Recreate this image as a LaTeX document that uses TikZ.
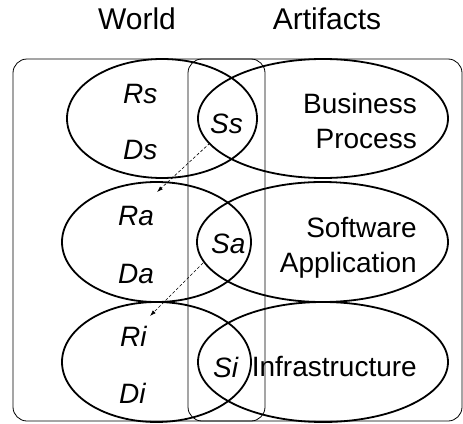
\documentclass[tikz,border=0pt]{standalone}
\usepackage{fontspec}
\setmainfont{Liberation Sans}
\usetikzlibrary{arrows.meta}
\begin{document}
\begin{tikzpicture}[x=1pt,y=-1pt,
  region/.style={draw, line width=0.8pt, rounded corners=14pt},
  set/.style={draw, line width=1.8pt},
  title/.style={font=\fontsize{30}{36}\selectfont, anchor=base, inner sep=0pt},
  sym/.style={font=\fontsize{28}{34}\selectfont\itshape, anchor=base west, inner sep=0pt},
  layer/.style={font=\fontsize{28}{35}\selectfont, align=right, anchor=base east, inner sep=0pt},
  trace/.style={line width=0.6pt, dash pattern=on 3pt off 2pt, -{Latex[length=6pt,width=4pt]}}]

\useasboundingbox (0,0) rectangle (463,423);

% column headings
\node[title] (world) at (137,29) {World};
\node[title] (artifacts) at (327,29) {Artifacts};

% the two overlapping domains
\draw[region] (13,59) rectangle (265,421);
\draw[region] (188,59) rectangle (462,421);

% business process layer
\draw[set] (162,118.5) ellipse [x radius=95, y radius=59.5];
\draw[set] (323,118.5) ellipse [x radius=125, y radius=59.5];
% software application layer
\draw[set] (156.5,242) ellipse [x radius=94.5, y radius=60];
\draw[set] (322.5,242) ellipse [x radius=125.5, y radius=60];
% infrastructure layer
\draw[set] (156.5,362) ellipse [x radius=94.5, y radius=60];
\draw[set] (323,362) ellipse [x radius=125, y radius=60];

% requirements, domain assumptions and specifications
\node[sym] (Rs) at (123,103) {Rs};
\node[sym] (Ds) at (123,159) {Ds};
\node[sym] (Ss) at (210,133) {Ss};
\node[sym] (Ra) at (118,225) {Ra};
\node[sym] (Da) at (118,283) {Da};
\node[sym] (Sa) at (211,253) {Sa};
\node[sym] (Ri) at (120,346) {Ri};
\node[sym] (Di) at (119,403) {Di};
\node[sym] (Si) at (213,377) {Si};

% layer names (base anchor sits on the last line)
\node[layer] (bp) at (417,148) {Business\\Process};
\node[layer] (sw) at (417,272) {Software\\Application};
\node[layer] (inf) at (417,376) {Infrastructure};

% refinement of specifications into lower-layer requirements
\coordinate (ssout) at (210,143);
\coordinate (rain) at (157,192);
\coordinate (saout) at (203,263);
\coordinate (riin) at (150,316);
\draw[trace] (ssout) -- (rain);
\draw[trace] (saout) -- (riin);
\end{tikzpicture}
\end{document}
